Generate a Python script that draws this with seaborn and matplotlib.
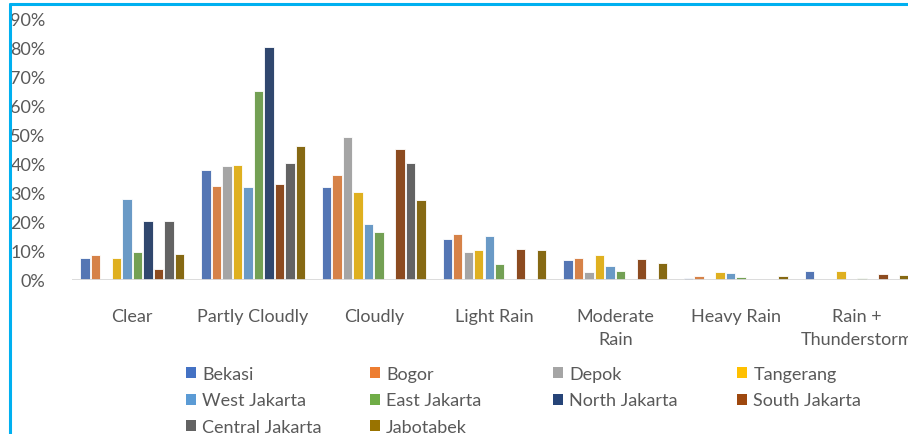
import numpy as np
import pandas as pd
import matplotlib
matplotlib.use("Agg")
import matplotlib.pyplot as plt
from matplotlib.lines import Line2D
from matplotlib.patches import Patch
from matplotlib.ticker import PercentFormatter
import seaborn as sns

# Share of days (%) per weather condition for each area
conditions = ["Clear", "Partly Cloudly", "Cloudly", "Light Rain",
              "Moderate\nRain", "Heavy Rain", "Rain +\nThunderstorm"]
cities = ["Bekasi", "Bogor", "Depok", "Tangerang", "West Jakarta",
          "East Jakarta", "North Jakarta", "South Jakarta",
          "Central Jakarta", "Jabotabek"]

bekasi = [7.4, 37.6, 31.8, 14.0, 6.8, 0.7, 2.9]
bogor = [8.6, 32.2, 36.0, 15.7, 7.4, 1.4, 0.0]
depok = [0.0, 39.1, 49.0, 9.7, 2.6, 0.0, 0.0]
tangerang = [7.4, 39.5, 30.1, 10.2, 8.6, 2.5, 2.9]
west_jakarta = [27.9, 32.0, 19.1, 15.1, 4.6, 2.2, 0.0]
east_jakarta = [9.5, 64.9, 16.4, 5.4, 3.0, 0.8, 0.5]
north_jakarta = [20.2, 80.2, 0.0, 0.0, 0.0, 0.0, 0.0]
south_jakarta = [3.7, 32.9, 44.9, 10.5, 7.1, 0.0, 1.9]
central_jakarta = [20.2, 40.1, 40.1, 0.0, 0.0, 0.0, 0.0]
jabotabek = [8.8, 45.9, 27.6, 10.2, 5.7, 1.4, 1.7]

series = [bekasi, bogor, depok, tangerang, west_jakarta, east_jakarta,
          north_jakarta, south_jakarta, central_jakarta, jabotabek]

colors = ["#4472C4", "#ED7D31", "#A5A5A5", "#FFC000", "#5B9BD5",
          "#70AD47", "#264478", "#9E480E", "#636363", "#997300"]

rows = []
for city, vals in zip(cities, series):
    for cond, v in zip(conditions, vals):
        rows.append({"Condition": cond, "City": city, "Share": v})
df = pd.DataFrame(rows)

sns.set_style("white")
plt.rcParams["font.family"] = ["Lato", "DejaVu Sans"]
TEXT = "#595959"
FS = 13

W, H = 908, 435
fig = plt.figure(figsize=(W / 100, H / 100), dpi=100)
ax_left, ax_right = 72, 917
ax_bottom, ax_top = 280.7, 19.3
ax = fig.add_axes([ax_left / W, 1 - ax_bottom / H,
                   (ax_right - ax_left) / W, (ax_bottom - ax_top) / H])

sns.barplot(data=df, x="Condition", y="Share", hue="City",
            order=conditions, hue_order=cities, palette=colors,
            width=0.87, gap=0.1, edgecolor="white", linewidth=0.6,
            legend=False, ax=ax)

ax.set_xlim(-0.5, len(conditions) - 0.5)
ax.set_ylim(0, 90)
ax.set_yticks(np.arange(0, 91, 10))
ax.yaxis.set_major_formatter(PercentFormatter(100, decimals=0))
ax.axhline(0, color="#D9D9D9", lw=1.3, zorder=5)
for s in ax.spines.values():
    s.set_visible(False)
ax.set_xlabel("")
ax.set_ylabel("")
ax.tick_params(axis="y", length=0, pad=19, labelsize=FS, labelcolor=TEXT)
ax.tick_params(axis="x", length=0, pad=20.5, labelsize=FS, labelcolor=TEXT)
for lbl in ax.get_xticklabels():
    lbl.set_linespacing(1.55)
    lbl.set_verticalalignment("top")

# Legend laid out as four columns of the chart's series
columns = [["Bekasi", "West Jakarta", "Central Jakarta"],
           ["Bogor", "East Jakarta", "Jabotabek"],
           ["Depok", "North Jakarta"],
           ["Tangerang", "South Jakarta"]]
col_x = [186, 370, 553, 737]
for cx, names in zip(col_x, columns):
    handles = [Patch(facecolor=colors[cities.index(n)], edgecolor="none")
               for n in names]
    fig.legend(handles, names, loc="upper left",
               bbox_to_anchor=(cx / W, 1 - 367 / H),
               frameon=False, borderpad=0, borderaxespad=0,
               handlelength=0.55, handleheight=0.55, handletextpad=0.35,
               labelspacing=0.58, fontsize=FS, labelcolor=TEXT)

# Blue frame edges
frame = "#00B0F0"
fig.add_artist(Line2D([10 / W, 10 / W], [0, 1 - 4.5 / H],
                      transform=fig.transFigure, color=frame, lw=2.2))
fig.add_artist(Line2D([10 / W, 1], [1 - 4.5 / H, 1 - 4.5 / H],
                      transform=fig.transFigure, color=frame, lw=2.2))

fig.savefig("out.png", dpi=100)
